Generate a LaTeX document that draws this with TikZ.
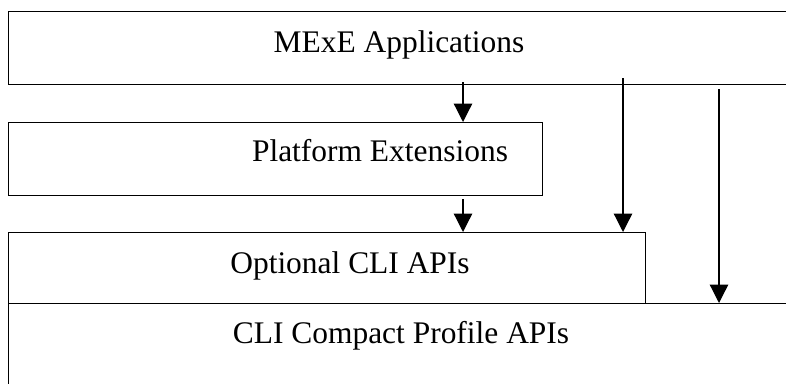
\documentclass[tikz,border=0pt]{standalone}
\usepackage{fontspec}
\setmainfont{Liberation Serif}
\usetikzlibrary{arrows.meta}

\tikzset{
  layer/.style={draw, line width=0.8pt, rectangle, inner sep=0pt, anchor=north west},
  lbl/.style={anchor=base, inner sep=0pt, font=\fontsize{17.9}{21}\selectfont},
  arr/.style={line width=0.7pt, -{Triangle[length=10.5pt, width=10.5pt]}}
}

\begin{document}
\begin{tikzpicture}[x=0.02cm, y=-0.02cm]
\useasboundingbox (0,0) rectangle (786,383);
\clip (0,0) rectangle (786,383);

% layers
\node[layer, minimum width=16.44cm, minimum height=1.46cm] (mexe) at (8,11) {};
\node[layer, minimum width=10.68cm, minimum height=1.46cm] (platform) at (8,122) {};
\node[layer, minimum width=16.44cm, minimum height=2.4cm] (compact) at (8,303) {};
\node[layer, minimum width=12.74cm, minimum height=1.42cm] (optional) at (8,232) {};

\node[lbl] (mexetxt) at (399,52) {MExE Applications};
\node[lbl] (platformtxt) at (380,161) {Platform Extensions};
\node[lbl] (optionaltxt) at (350,273) {Optional CLI APIs};
\node[lbl] (compacttxt) at (401,343) {CLI Compact Profile APIs};

% uses
\coordinate (s1) at (463,82);
\coordinate (s2) at (463,199);
\coordinate (s3) at (623,78);
\coordinate (s4) at (719,89);
\draw[arr] (s1) -- (s1 |- platform.north);
\draw[arr] (s2) -- (s2 |- optional.north);
\draw[arr] (s3) -- (s3 |- optional.north);
\draw[arr] (s4) -- (s4 |- compact.north);
\end{tikzpicture}
\end{document}
